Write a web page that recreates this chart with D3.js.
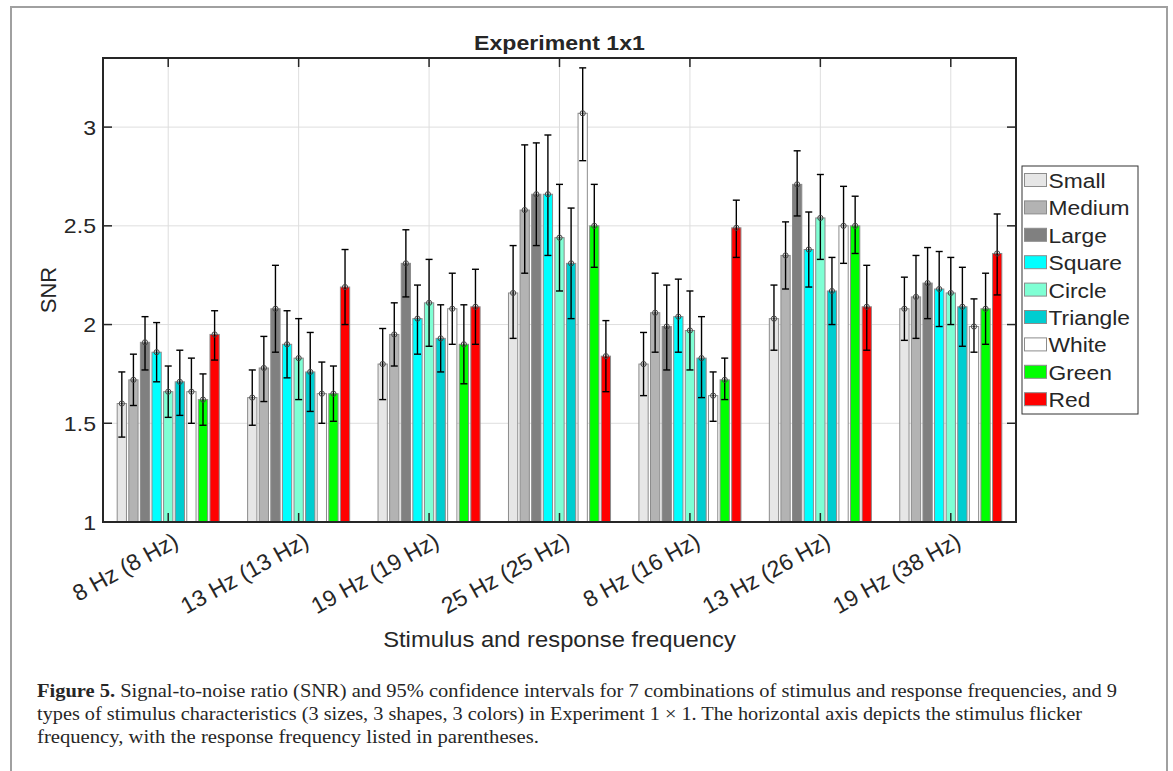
<!DOCTYPE html>
<html>
<head>
<meta charset="utf-8">
<script src="https://cdn.jsdelivr.net/npm/d3@7/dist/d3.min.js"></script>
<style>
  html, body { margin: 0; padding: 0; background: #fff; }
  svg { display: block; }
  text { font-family: "Liberation Sans", Arial, Helvetica, sans-serif; fill: #262626; }
</style>
</head>
<body>
<svg id="fig" width="1173" height="771"></svg>
<script>
// Stimulus / response frequency combinations
const categories = ["8 Hz (8 Hz)", "13 Hz (13 Hz)", "19 Hz (19 Hz)", "25 Hz (25 Hz)",
                    "8 Hz (16 Hz)", "13 Hz (26 Hz)", "19 Hz (38 Hz)"];
// Stimulus characteristics (3 sizes, 3 shapes, 3 colors)
const series = ["Small", "Medium", "Large", "Square", "Circle", "Triangle", "White", "Green", "Red"];
const seriesColors = ["#e6e6e6", "#b3b3b3", "#808080", "#00ffff", "#7fffd4", "#00cdd0", "#ffffff", "#00ff00", "#ff0000"];

// Mean SNR per series (one value per category)
const snrSmall    = [1.60, 1.63, 1.80, 2.16, 1.80, 2.03, 2.08];
const snrMedium   = [1.72, 1.78, 1.95, 2.58, 2.06, 2.35, 2.14];
const snrLarge    = [1.91, 2.08, 2.31, 2.66, 1.99, 2.71, 2.21];
const snrSquare   = [1.86, 1.90, 2.03, 2.66, 2.04, 2.38, 2.18];
const snrCircle   = [1.66, 1.83, 2.11, 2.44, 1.97, 2.54, 2.16];
const snrTriangle = [1.71, 1.76, 1.93, 2.31, 1.83, 2.17, 2.09];
const snrWhite    = [1.66, 1.65, 2.08, 3.07, 1.64, 2.50, 1.99];
const snrGreen    = [1.62, 1.65, 1.90, 2.50, 1.72, 2.50, 2.08];
const snrRed      = [1.95, 2.19, 2.09, 1.84, 2.49, 2.09, 2.36];

// Lower / upper bounds of the 95% confidence intervals
const ciLowSmall     = [1.43, 1.49, 1.62, 1.93, 1.64, 1.87, 1.92];
const ciHighSmall    = [1.76, 1.77, 1.98, 2.40, 1.96, 2.20, 2.24];
const ciLowMedium    = [1.59, 1.61, 1.79, 2.26, 1.86, 2.18, 1.93];
const ciHighMedium   = [1.85, 1.94, 2.11, 2.91, 2.26, 2.52, 2.35];
const ciLowLarge     = [1.77, 1.86, 2.14, 2.40, 1.77, 2.55, 2.03];
const ciHighLarge    = [2.04, 2.30, 2.48, 2.92, 2.20, 2.88, 2.39];
const ciLowSquare    = [1.71, 1.73, 1.85, 2.35, 1.86, 2.19, 1.99];
const ciHighSquare   = [2.01, 2.07, 2.20, 2.96, 2.23, 2.57, 2.37];
const ciLowCircle    = [1.53, 1.62, 1.89, 2.17, 1.77, 2.33, 2.00];
const ciHighCircle   = [1.79, 2.03, 2.33, 2.71, 2.17, 2.76, 2.34];
const ciLowTriangle  = [1.54, 1.56, 1.76, 2.03, 1.63, 2.00, 1.89];
const ciHighTriangle = [1.87, 1.96, 2.10, 2.59, 2.04, 2.34, 2.29];
const ciLowWhite     = [1.50, 1.50, 1.90, 2.83, 1.51, 2.31, 1.86];
const ciHighWhite    = [1.83, 1.81, 2.26, 3.30, 1.76, 2.70, 2.13];
const ciLowGreen     = [1.49, 1.51, 1.70, 2.29, 1.62, 2.36, 1.90];
const ciHighGreen    = [1.75, 1.79, 2.10, 2.71, 1.83, 2.65, 2.26];
const ciLowRed       = [1.82, 2.00, 1.90, 1.66, 2.34, 1.87, 2.15];
const ciHighRed      = [2.07, 2.38, 2.28, 2.02, 2.63, 2.30, 2.56];

const yTicks = [1, 1.5, 2, 2.5, 3];

const means  = [snrSmall, snrMedium, snrLarge, snrSquare, snrCircle, snrTriangle, snrWhite, snrGreen, snrRed];
const lows   = [ciLowSmall, ciLowMedium, ciLowLarge, ciLowSquare, ciLowCircle, ciLowTriangle, ciLowWhite, ciLowGreen, ciLowRed];
const highs  = [ciHighSmall, ciHighMedium, ciHighLarge, ciHighSquare, ciHighCircle, ciHighTriangle, ciHighWhite, ciHighGreen, ciHighRed];

const records = [];
categories.forEach((c, ci) => {
  series.forEach((s, si) => {
    records.push({ cat: c, ser: s, color: seriesColors[si],
                   v: means[si][ci], lo: lows[si][ci], hi: highs[si][ci] });
  });
});

const svg = d3.select("#fig");

// widen horizontal text slightly (font renders narrower than the original)
function stretch(sel, k) {
  sel.each(function () {
    const len = this.getComputedTextLength();
    d3.select(this).attr("textLength", len * k).attr("lengthAdjust", "spacingAndGlyphs");
  });
}

// figure frame
svg.append("rect")
  .attr("x", 11).attr("y", 7).attr("width", 1156).attr("height", 800)
  .attr("fill", "none").attr("stroke", "#a0a0a0").attr("stroke-width", 2);

const X0 = 103, X1 = 1016, Y0 = 58, Y1 = 522;

const x = d3.scaleBand().domain(categories).range([X0, X1]).padding(0);
const groupW = 106.7;
const xs = d3.scaleBand().domain(series).range([-groupW / 2, groupW / 2]).padding(0.2);
const y = d3.scaleLinear().domain([1, 3.35]).range([Y1, Y0]);

const plot = svg.append("g");

// grid
plot.append("g").selectAll("line").data(yTicks.slice(1)).join("line")
  .attr("x1", X0).attr("x2", X1)
  .attr("y1", d => y(d)).attr("y2", d => y(d))
  .attr("stroke", "#dedede").attr("stroke-width", 1);
plot.append("g").selectAll("line").data(categories).join("line")
  .attr("x1", d => x(d) + x.bandwidth() / 2).attr("x2", d => x(d) + x.bandwidth() / 2)
  .attr("y1", Y0).attr("y2", Y1)
  .attr("stroke", "#dedede").attr("stroke-width", 1);

const cx = d => x(d.cat) + x.bandwidth() / 2 + xs(d.ser) + xs.bandwidth() / 2;

// bars
plot.append("g").selectAll("rect").data(records).join("rect")
  .attr("x", d => x(d.cat) + x.bandwidth() / 2 + xs(d.ser))
  .attr("width", xs.bandwidth())
  .attr("y", d => y(d.v))
  .attr("height", d => y(1) - y(d.v))
  .attr("fill", d => d.color)
  .attr("stroke", "#8c8c8c").attr("stroke-width", 1);

// confidence intervals
const eb = plot.append("g").attr("stroke", "#000").attr("stroke-width", 1.4);
eb.selectAll("line.v").data(records).join("line").attr("class", "v")
  .attr("x1", cx).attr("x2", cx)
  .attr("y1", d => y(d.lo)).attr("y2", d => y(d.hi));
eb.selectAll("line.t").data(records).join("line").attr("class", "t")
  .attr("x1", d => cx(d) - 3.5).attr("x2", d => cx(d) + 3.5)
  .attr("y1", d => y(d.hi)).attr("y2", d => y(d.hi));
eb.selectAll("line.b").data(records).join("line").attr("class", "b")
  .attr("x1", d => cx(d) - 3.5).attr("x2", d => cx(d) + 3.5)
  .attr("y1", d => y(d.lo)).attr("y2", d => y(d.lo));

// mean markers
plot.append("g").selectAll("circle").data(records).join("circle")
  .attr("cx", cx).attr("cy", d => y(d.v)).attr("r", 2.6)
  .attr("fill", "none").attr("stroke", "#444").attr("stroke-width", 1);

// axes box and ticks
const axisColor = "#262626";
const tickLen = 9;
const ticks = svg.append("g").attr("stroke", axisColor).attr("stroke-width", 1.5);
categories.forEach(c => {
  const tx = x(c) + x.bandwidth() / 2;
  ticks.append("line").attr("x1", tx).attr("x2", tx).attr("y1", Y1).attr("y2", Y1 - tickLen);
  ticks.append("line").attr("x1", tx).attr("x2", tx).attr("y1", Y0).attr("y2", Y0 + tickLen);
});
yTicks.forEach(t => {
  ticks.append("line").attr("x1", X0).attr("x2", X0 + tickLen).attr("y1", y(t)).attr("y2", y(t));
  ticks.append("line").attr("x1", X1).attr("x2", X1 - tickLen).attr("y1", y(t)).attr("y2", y(t));
});
svg.append("rect").attr("x", X0).attr("y", Y0).attr("width", X1 - X0).attr("height", Y1 - Y0)
  .attr("fill", "none").attr("stroke", axisColor).attr("stroke-width", 2);

// y tick labels
svg.append("g").selectAll("text").data(yTicks).join("text")
  .attr("x", 96).attr("y", d => y(d)).attr("dy", "0.36em")
  .attr("text-anchor", "end").attr("font-size", 21)
  .text(d => d3.format("~g")(d))
  .call(stretch, 1.1);

// x tick labels (rotated)
svg.append("g").selectAll("text").data(categories).join("text")
  .attr("transform", d => `translate(${x(d) + x.bandwidth() / 2 + 3},${Y1 + 8}) rotate(-29)`)
  .attr("dy", "0.78em")
  .attr("text-anchor", "end").attr("font-size", 23)
  .text(d => d);

// axis titles
svg.append("text").attr("x", (X0 + X1) / 2).attr("y", 647)
  .attr("text-anchor", "middle").attr("font-size", 22)
  .text("Stimulus and response frequency").call(stretch, 1.08);
svg.append("text")
  .attr("transform", `translate(56,${(Y0 + Y1) / 2}) rotate(-90)`)
  .attr("text-anchor", "middle").attr("font-size", 22)
  .text("SNR");
svg.append("text").attr("x", (X0 + X1) / 2).attr("y", 50)
  .attr("text-anchor", "middle").attr("font-size", 21).attr("font-weight", "bold")
  .attr("fill", "#000")
  .text("Experiment 1x1").call(stretch, 1.1);

// legend
const lg = svg.append("g");
lg.append("rect").attr("x", 1022).attr("y", 166).attr("width", 116).attr("height", 248)
  .attr("fill", "#fff").attr("stroke", "#333").attr("stroke-width", 1);
const pitch = 27.4;
series.forEach((s, i) => {
  const cy = 180 + i * pitch;
  lg.append("rect").attr("x", 1024.5).attr("y", cy - 6.5).attr("width", 22).attr("height", 13)
    .attr("fill", seriesColors[i]).attr("stroke", "#8c8c8c").attr("stroke-width", 1);
  lg.append("text").attr("x", 1048.5).attr("y", cy + 8)
    .attr("font-size", 20).attr("fill", "#000").text(s).call(stretch, 1.14);
});

// caption
const cap = svg.append("g");
const capLines = [
  { y: 697, end: 1117, bold: "Figure 5.", rest: " Signal-to-noise ratio (SNR) and 95% confidence intervals for 7 combinations of stimulus and response frequencies, and 9" },
  { y: 720, end: 1082, bold: "", rest: "types of stimulus characteristics (3 sizes, 3 shapes, 3 colors) in Experiment 1 \u00d7 1. The horizontal axis depicts the stimulus flicker" },
  { y: 743, end: 539, bold: "", rest: "frequency, with the response frequency listed in parentheses." }
];
capLines.forEach(l => {
  const t = cap.append("text").attr("x", 37).attr("y", l.y).attr("font-size", 19)
    .style("font-family", "'Liberation Serif', 'Times New Roman', serif").attr("fill", "#111");
  if (l.bold) t.append("tspan").attr("font-weight", "bold").text(l.bold);
  t.append("tspan").text(l.rest);
  t.attr("textLength", l.end - 37).attr("lengthAdjust", "spacingAndGlyphs");
});
</script>
</body>
</html>
